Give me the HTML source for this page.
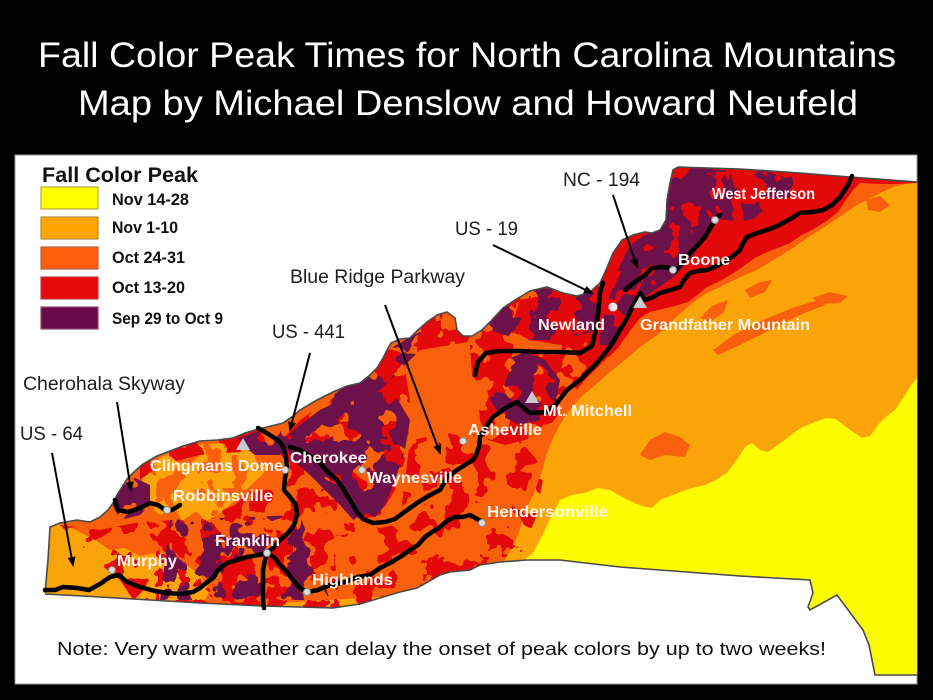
<!DOCTYPE html>
<html><head><meta charset="utf-8"><style>
html,body{margin:0;padding:0;background:#000;}
svg{display:block;}
.ti{font-family:"Liberation Sans",sans-serif;fill:#fff;}
.rl{font-family:"Liberation Sans",sans-serif;font-size:19px;fill:#1e1e1e;}
.cl{font-family:"Liberation Sans",sans-serif;font-size:16px;font-weight:bold;fill:#fff6f2;}
.lg{font-family:"Liberation Sans",sans-serif;font-size:16.5px;font-weight:bold;fill:#111;}
</style></head><body>
<svg width="933" height="700" viewBox="0 0 933 700" xmlns="http://www.w3.org/2000/svg">
<defs>
<clipPath id="nc"><path d="M45,593 L48,560 L50,527 L60,523 L77,520 L90,522 L100,517 L108,510 L113,503 L117,495 L122,487 L127,479 L135,471 L143,464 L157,456 L170,451 L183,446 L200,441 L217,440 L233,438 L245,433 L255,430 L267,427 L283,423 L293,416 L300,410 L317,400 L333,392 L347,386 L360,383 L370,375 L377,368 L383,358 L387,350 L391,343 L400,339 L410,338 L418,330 L427,322 L437,315 L447,312 L455,318 L457,330 L463,336 L472,336 L482,330 L490,322 L503,308 L515,300 L530,291 L547,287 L563,293 L577,296 L590,292 L600,283 L606,270 L613,253 L622,240 L633,235 L645,232 L652,233 L660,230 L666,220 L667,200 L670,183 L673,170 L678,167 L740,169 L800,173 L850,177 L917,182 L917,675 L875,675 L872,660 L869,645 L863,630 L837,595 L810,610 L808,607 L813,593 L810,580 L740,576 L620,567 L560,560 L527,560 L500,562 L480,565 L470,570 L450,572 L440,575 L417,588 L400,592 L380,598 L360,604 L333,608 L263,606 L200,603 L150,600 L100,597 L45,594 Z"/></clipPath>

<filter id="fA" filterUnits="userSpaceOnUse" x="0" y="0" width="933" height="700" color-interpolation-filters="sRGB"><feTurbulence type="fractalNoise" baseFrequency="0.045" numOctaves="3" seed="3" result="n"/><feColorMatrix in="n" type="matrix" values="0 0 0 0 0 0 0 0 0 0 0 0 0 0 0 1 0 0 0 -0.06" result="a"/><feComponentTransfer in="a" result="t"><feFuncA type="discrete" tableValues="0 1"/></feComponentTransfer><feComposite in="SourceGraphic" in2="t" operator="in"/></filter>
<filter id="fB" filterUnits="userSpaceOnUse" x="0" y="0" width="933" height="700" color-interpolation-filters="sRGB"><feTurbulence type="fractalNoise" baseFrequency="0.045" numOctaves="3" seed="5" result="n"/><feColorMatrix in="n" type="matrix" values="0 0 0 0 0 0 0 0 0 0 0 0 0 0 0 1 0 0 0 -0.025" result="a"/><feComponentTransfer in="a" result="t"><feFuncA type="discrete" tableValues="0 1"/></feComponentTransfer><feComposite in="SourceGraphic" in2="t" operator="in"/></filter>
<filter id="fC" filterUnits="userSpaceOnUse" x="0" y="0" width="933" height="700" color-interpolation-filters="sRGB"><feTurbulence type="fractalNoise" baseFrequency="0.045" numOctaves="3" seed="7" result="n"/><feColorMatrix in="n" type="matrix" values="0 0 0 0 0 0 0 0 0 0 0 0 0 0 0 1 0 0 0 0.03" result="a"/><feComponentTransfer in="a" result="t"><feFuncA type="discrete" tableValues="0 1"/></feComponentTransfer><feComposite in="SourceGraphic" in2="t" operator="in"/></filter>
<filter id="pA" filterUnits="userSpaceOnUse" x="0" y="0" width="933" height="700" color-interpolation-filters="sRGB"><feTurbulence type="fractalNoise" baseFrequency="0.045" numOctaves="3" seed="13" result="n"/><feColorMatrix in="n" type="matrix" values="0 0 0 0 0 0 0 0 0 0 0 0 0 0 0 1 0 0 0 -0.05" result="a"/><feComponentTransfer in="a" result="t"><feFuncA type="discrete" tableValues="0 1"/></feComponentTransfer><feComposite in="SourceGraphic" in2="t" operator="in"/></filter>
<filter id="pB" filterUnits="userSpaceOnUse" x="0" y="0" width="933" height="700" color-interpolation-filters="sRGB"><feTurbulence type="fractalNoise" baseFrequency="0.045" numOctaves="3" seed="17" result="n"/><feColorMatrix in="n" type="matrix" values="0 0 0 0 0 0 0 0 0 0 0 0 0 0 0 1 0 0 0 0.0" result="a"/><feComponentTransfer in="a" result="t"><feFuncA type="discrete" tableValues="0 1"/></feComponentTransfer><feComposite in="SourceGraphic" in2="t" operator="in"/></filter>
<filter id="pC" filterUnits="userSpaceOnUse" x="0" y="0" width="933" height="700" color-interpolation-filters="sRGB"><feTurbulence type="fractalNoise" baseFrequency="0.045" numOctaves="3" seed="19" result="n"/><feColorMatrix in="n" type="matrix" values="0 0 0 0 0 0 0 0 0 0 0 0 0 0 0 1 0 0 0 0.05" result="a"/><feComponentTransfer in="a" result="t"><feFuncA type="discrete" tableValues="0 1"/></feComponentTransfer><feComposite in="SourceGraphic" in2="t" operator="in"/></filter>
<filter id="pD" filterUnits="userSpaceOnUse" x="0" y="0" width="933" height="700" color-interpolation-filters="sRGB"><feTurbulence type="fractalNoise" baseFrequency="0.045" numOctaves="3" seed="23" result="n"/><feColorMatrix in="n" type="matrix" values="0 0 0 0 0 0 0 0 0 0 0 0 0 0 0 1 0 0 0 0.1" result="a"/><feComponentTransfer in="a" result="t"><feFuncA type="discrete" tableValues="0 1"/></feComponentTransfer><feComposite in="SourceGraphic" in2="t" operator="in"/></filter>
<filter id="oC" filterUnits="userSpaceOnUse" x="0" y="0" width="933" height="700" color-interpolation-filters="sRGB"><feTurbulence type="fractalNoise" baseFrequency="0.045" numOctaves="3" seed="29" result="n"/><feColorMatrix in="n" type="matrix" values="0 0 0 0 0 0 0 0 0 0 0 0 0 0 0 1 0 0 0 0.03" result="a"/><feComponentTransfer in="a" result="t"><feFuncA type="discrete" tableValues="0 1"/></feComponentTransfer><feComposite in="SourceGraphic" in2="t" operator="in"/></filter>

<marker id="ah" markerWidth="10" markerHeight="10" refX="8" refY="5" orient="auto" markerUnits="userSpaceOnUse"><path d="M0,1 L10,5 L0,9 Z" fill="#000"/></marker>
</defs>

<rect width="933" height="700" fill="#000"/>
<text class="ti" x="38" y="67" font-size="35" textLength="858" lengthAdjust="spacingAndGlyphs">Fall Color Peak Times for North Carolina Mountains</text>
<text class="ti" x="78" y="115" font-size="35" textLength="780" lengthAdjust="spacingAndGlyphs">Map by Michael Denslow and Howard Neufeld</text>

<rect x="15" y="155" width="902" height="529" fill="#fff" stroke="#9a9a9a" stroke-width="1"/>

<g clip-path="url(#nc)">
 <rect x="0" y="150" width="933" height="550" fill="#fba40a"/>
 <path fill="#fefc02" d="M520,700 L522,562 L533,553 L540,540 L546,528 L552,515 L560,500 L572,495 L585,493 L598,488 L610,490 L622,497 L632,502 L642,506 L652,508 L660,500 L668,497 L680,492 L692,488 L705,485 L716,480 L727,473 L733,465 L740,455 L746,446 L752,443 L760,450 L768,452 L776,446 L785,440 L795,432 L803,427 L815,422 L826,418 L836,419 L845,426 L853,432 L862,438 L870,436 L878,425 L887,416 L895,410 L903,398 L910,387 L917,378 L940,378 L940,700 Z"/>
 <path fill="#f8600b" d="M0,150 L917,150 L917,181 L905,184 L893,187 L880,193 L867,200 L857,205 L845,213 L835,220 L823,228 L810,236 L800,243 L790,250 L777,258 L767,264 L757,270 L745,275 L730,282 L718,288 L707,293 L697,300 L690,305 L682,312 L675,318 L668,326 L660,333 L650,340 L640,347 L625,360 L610,372 L595,385 L580,398 L568,412 L558,428 L550,445 L545,460 L540,478 L534,493 L528,505 L523,520 L518,535 L512,548 L505,560 L495,590 L0,620 Z"/>
 <path fill="#f8600b" d="M718,355 L740,345 L770,330 L800,315 L825,305 L822,299 L795,307 L765,319 L735,334 L713,350 Z"/>
 <path fill="#f8600b" d="M640,455 L650,440 L665,432 L680,437 L690,445 L685,457 L665,455 L650,460 Z"/>
 <path fill="#f8600b" d="M812,298 L830,292 L848,296 L840,303 L820,304 Z"/>
 <path fill="#f8600b" d="M700,318 L712,306 L728,300 L724,312 L710,322 Z"/>
 <path fill="#f8600b" d="M745,290 L760,282 L772,280 L765,292 L750,298 Z"/>
 <path fill="#f8600b" d="M866,200 L880,196 L890,205 L880,212 L868,210 Z"/>
 <path fill="#fba40a" d="M40,600 L40,520 L70,527 L95,540 L110,550 L125,548 L140,556 L160,552 L180,560 L200,575 L210,590 L200,610 Z"/>
 <path fill="#fba40a" filter="url(#oC)" d="M140,470 L165,455 L200,445 L235,442 L262,447 L272,460 L262,475 L248,488 L235,500 L222,512 L205,522 L185,525 L165,520 L152,508 L145,490 Z"/>
 <path fill="#e3080a" filter="url(#fB)" d="M60,525 L100,530 L140,522 L175,520 L205,518 L235,505 L262,480 L282,452 L300,440 L320,460 L335,490 L340,520 L335,560 L340,610 L140,610 L120,580 L95,560 Z"/>
 <path fill="#e3080a" filter="url(#fA)" d="M335,520 L380,528 L420,520 L470,525 L500,560 L480,600 L335,610 Z"/>
 <path fill="#e3080a" filter="url(#fC)" d="M282,440 L300,420 L330,400 L360,380 L380,360 L395,340 L420,328 L445,310 L470,310 L490,320 L480,340 L450,345 L420,350 L405,370 L410,400 L412,430 L405,460 L395,490 L380,515 L360,520 L345,505 L330,485 L310,468 Z"/>
 <path fill="#e3080a" filter="url(#fA)" d="M410,440 L470,430 L520,440 L545,470 L535,520 L520,555 L470,565 L420,560 L400,520 Z"/>
 <path fill="#e3080a" filter="url(#fB)" d="M140,440 L200,430 L260,425 L270,445 L240,452 L200,455 L160,465 L140,480 Z"/>
 <path fill="#e3080a" filter="url(#fC)" d="M460,300 L600,280 L640,300 L620,340 L605,360 L585,380 L570,398 L558,415 L545,432 L525,440 L505,445 L488,440 L480,420 L478,395 L472,375 L470,345 Z"/>
 <path fill="#e3080a" d="M600,150 L917,150 L917,183 L895,184 L880,184 L860,183 L853,190 L846,200 L838,212 L825,222 L812,230 L800,236 L790,243 L778,248 L767,252 L755,258 L745,265 L735,272 L722,280 L707,287 L697,295 L688,302 L675,306 L663,309 L650,312 L640,318 L632,328 L625,338 L618,348 L610,356 L600,362 L590,368 L580,362 L590,340 L600,300 Z"/>
 <path fill="#e3080a" d="M520,300 L560,292 L595,290 L600,320 L590,340 L560,345 L530,340 L510,330 Z"/>
 <path fill="#6c1149" filter="url(#pD)" d="M598,345 L605,310 L612,290 L620,265 L630,245 L645,235 L660,230 L666,215 L670,180 L690,168 L730,170 L735,190 L725,210 L712,228 L700,245 L688,262 L672,278 L655,290 L640,300 L628,318 L615,345 Z"/>
 <path fill="#6c1149" filter="url(#pA)" d="M700,170 L790,170 L800,200 L770,215 L740,222 L712,218 Z"/>
 <path fill="#6c1149" filter="url(#pD)" d="M282,440 L300,425 L320,410 L345,398 L370,390 L395,395 L410,420 L405,450 L395,480 L385,505 L372,522 L355,522 L340,505 L325,490 L310,475 L295,462 Z"/>
 <path fill="#6c1149" filter="url(#pB)" d="M320,405 L340,390 L370,375 L388,350 L405,340 L420,332 L425,345 L410,360 L395,375 L380,390 L355,400 L335,410 Z"/>
 <path fill="#6c1149" filter="url(#pC)" d="M490,380 L505,360 L525,352 L545,360 L560,380 L555,405 L540,420 L520,425 L500,415 L490,400 Z"/>
 <path fill="#6c1149" filter="url(#pB)" d="M470,300 L540,288 L600,292 L598,330 L560,340 L520,340 L490,330 Z"/>
 <path fill="#6c1149" filter="url(#pC)" d="M110,500 L120,485 L135,478 L150,485 L150,505 L140,515 L120,520 Z"/>
 <path fill="#6c1149" filter="url(#pA)" d="M170,520 L300,515 L330,600 L160,600 Z"/>
 <path fill="#6c1149" filter="url(#pC)" d="M235,440 L255,432 L285,428 L290,445 L280,455 L255,455 Z"/>
</g>
<path fill="none" stroke="#4a4a4a" stroke-width="1.6" d="M45,593 L48,560 L50,527 L60,523 L77,520 L90,522 L100,517 L108,510 L113,503 L117,495 L122,487 L127,479 L135,471 L143,464 L157,456 L170,451 L183,446 L200,441 L217,440 L233,438 L245,433 L255,430 L267,427 L283,423 L293,416 L300,410 L317,400 L333,392 L347,386 L360,383 L370,375 L377,368 L383,358 L387,350 L391,343 L400,339 L410,338 L418,330 L427,322 L437,315 L447,312 L455,318 L457,330 L463,336 L472,336 L482,330 L490,322 L503,308 L515,300 L530,291 L547,287 L563,293 L577,296 L590,292 L600,283 L606,270 L613,253 L622,240 L633,235 L645,232 L652,233 L660,230 L666,220 L667,200 L670,183 L673,170 L678,167 L740,169 L800,173 L850,177 L917,182 M917,675 L875,675 L872,660 L869,645 L863,630 L837,595 L810,610 L808,607 L813,593 L810,580 L740,576 L620,567 L560,560 L527,560 L500,562 L480,565 L470,570 L450,572 L440,575 L417,588 L400,592 L380,598 L360,604 L333,608 L263,606 L200,603 L150,600 L100,597 L45,594"/>

<g fill="none" stroke="#000" stroke-width="4.5" stroke-linejoin="round" stroke-linecap="round">
 <polyline points="852,176 848,185 840,197 832,205 823,210 812,212 800,213 792,218 783,223 775,227 767,230 757,233 747,237 742,245 740,250 733,256 727,260 717,266 707,270 698,271 690,273 684,280 680,287 670,290 660,293 653,297 645,300 640,293 632,308 625,322 620,330 610,347 597,363 580,380 567,390 557,403 547,412 530,413 517,402 507,407 493,417 485,428 480,437 479,447 476,455 473,460 465,465 457,470 447,477 443,485 440,490 432,494 425,498 417,503 410,508 403,513 395,519 385,522 373,523 363,519 357,512 350,500 344,490 337,480 328,472 320,463 310,456 300,450 290,447"/>
 <polyline points="258,428 265,432 273,437 280,442 284,448 286,458 287,467 285,478 284,490 290,497 296,505 297,515 294,525 288,533 280,540 273,548 267,553"/>
 <polyline points="267,553 265,560 263,570 263,585 263,600 264,608"/>
 <polyline points="267,553 275,558 280,565 287,572 293,580 300,588 307,592 318,590 330,585 345,582 358,577 370,575 380,568 390,563 400,557 410,550 418,545 425,537 432,532 440,527 447,521 455,517 463,517 470,515 477,519 483,522"/>
 <polyline points="267,553 258,555 247,557 237,560 227,563 218,570 213,578 206,583 200,588 193,592 180,594 167,593 155,591 140,587 127,582 119,575 110,577 100,584 89,590 77,588 63,587 55,590 45,590"/>
 <polyline points="115,500 118,510 128,512 140,508 150,503 158,505 165,510 172,510 180,505"/>
 <polyline points="475,375 478,362 486,353 500,351 520,351 540,352 560,352 580,353 592,346 597,325 599,305 600,292 603,283"/>
 <polyline points="625,290 635,282 645,275 652,268 662,267 670,268 675,272 682,262 690,253 698,245 705,237 712,225 716,218 720,215"/>
</g>

<g stroke="#000" stroke-width="2" marker-end="url(#ah)">
 <line x1="613" y1="195" x2="637" y2="267"/>
 <line x1="493" y1="245" x2="592" y2="293"/>
 <line x1="385" y1="305" x2="440" y2="453"/>
 <line x1="310" y1="353" x2="290" y2="430"/>
 <line x1="117" y1="402" x2="131" y2="490"/>
 <line x1="52" y1="453" x2="73" y2="565"/>
</g>

<g fill="#dcdcdc" stroke="#8a8a8a" stroke-width="1">
 <circle cx="715" cy="220" r="3.5"/>
 <circle cx="673" cy="270" r="3.5"/>
 <circle cx="463" cy="441" r="3.5"/>
 <circle cx="482" cy="523" r="3.5"/>
 <circle cx="362" cy="470" r="3.5"/>
 <circle cx="285" cy="470" r="3.5"/>
 <circle cx="167" cy="510" r="3.5"/>
 <circle cx="267" cy="553" r="3.5"/>
 <circle cx="112" cy="570" r="3.5"/>
 <circle cx="307" cy="592" r="3.5"/>
</g>
<circle cx="613" cy="307" r="4.5" fill="#f2e6ee"/>
<g fill="#c9c9cf">
 <path d="M640,296 L647,308 L633,308 Z"/>
 <path d="M532,391 L539,403 L525,403 Z"/>
 <path d="M243,438 L250,450 L236,450 Z"/>
</g>

<text class="cl" x="712" y="199" textLength="103" lengthAdjust="spacingAndGlyphs">West Jefferson</text>
<text class="cl" x="678" y="265" textLength="52" lengthAdjust="spacingAndGlyphs">Boone</text>
<text class="cl" x="538" y="330" textLength="67" lengthAdjust="spacingAndGlyphs">Newland</text>
<text class="cl" x="640" y="330" textLength="170" lengthAdjust="spacingAndGlyphs">Grandfather Mountain</text>
<text class="cl" x="543" y="416" textLength="89" lengthAdjust="spacingAndGlyphs">Mt. Mitchell</text>
<text class="cl" x="468" y="435" textLength="74" lengthAdjust="spacingAndGlyphs">Asheville</text>
<text class="cl" x="487" y="517" textLength="121" lengthAdjust="spacingAndGlyphs">Hendersonville</text>
<text class="cl" x="367" y="483" textLength="95" lengthAdjust="spacingAndGlyphs">Waynesville</text>
<text class="cl" x="290" y="463" textLength="77" lengthAdjust="spacingAndGlyphs">Cherokee</text>
<text class="cl" x="150" y="471" textLength="133" lengthAdjust="spacingAndGlyphs">Clingmans Dome</text>
<text class="cl" x="173" y="501" textLength="100" lengthAdjust="spacingAndGlyphs">Robbinsville</text>
<text class="cl" x="215" y="546" textLength="65" lengthAdjust="spacingAndGlyphs">Franklin</text>
<text class="cl" x="117" y="566" textLength="60" lengthAdjust="spacingAndGlyphs">Murphy</text>
<text class="cl" x="312" y="585" textLength="81" lengthAdjust="spacingAndGlyphs">Highlands</text>

<text class="rl" x="563" y="186" textLength="77" lengthAdjust="spacingAndGlyphs">NC - 194</text>
<text class="rl" x="455" y="235" textLength="63" lengthAdjust="spacingAndGlyphs">US - 19</text>
<text class="rl" x="290" y="283" textLength="175" lengthAdjust="spacingAndGlyphs">Blue Ridge Parkway</text>
<text class="rl" x="272" y="338" textLength="73" lengthAdjust="spacingAndGlyphs">US - 441</text>
<text class="rl" x="23" y="390" textLength="162" lengthAdjust="spacingAndGlyphs">Cherohala Skyway</text>
<text class="rl" x="20" y="440" textLength="63" lengthAdjust="spacingAndGlyphs">US - 64</text>

<text x="42" y="182" font-family="Liberation Sans, sans-serif" font-weight="bold" font-size="21" fill="#111" textLength="156" lengthAdjust="spacingAndGlyphs">Fall Color Peak</text>
<g stroke-width="1.2">
 <rect x="41" y="187" width="57" height="22" fill="#ffff00" stroke="#b8a640"/>
 <rect x="41" y="217" width="57" height="22" fill="#ffa500" stroke="#b88a40"/>
 <rect x="41" y="247" width="57" height="22" fill="#ff5f0a" stroke="#b86040"/>
 <rect x="41" y="277" width="57" height="22" fill="#e60a0a" stroke="#b84040"/>
 <rect x="41" y="307" width="57" height="22" fill="#6a0a48" stroke="#8a4a6a"/>
</g>
<text class="lg" x="112" y="205" textLength="77" lengthAdjust="spacingAndGlyphs">Nov 14-28</text>
<text class="lg" x="112" y="233" textLength="66" lengthAdjust="spacingAndGlyphs">Nov 1-10</text>
<text class="lg" x="112" y="263" textLength="73" lengthAdjust="spacingAndGlyphs">Oct 24-31</text>
<text class="lg" x="112" y="293" textLength="73" lengthAdjust="spacingAndGlyphs">Oct 13-20</text>
<text class="lg" x="112" y="324" textLength="111" lengthAdjust="spacingAndGlyphs">Sep 29 to Oct 9</text>

<text x="57" y="655" font-family="Liberation Sans, sans-serif" font-size="18" fill="#111" textLength="769" lengthAdjust="spacingAndGlyphs">Note: Very warm weather can delay the onset of peak colors by up to two weeks!</text>
</svg>
</body></html>
